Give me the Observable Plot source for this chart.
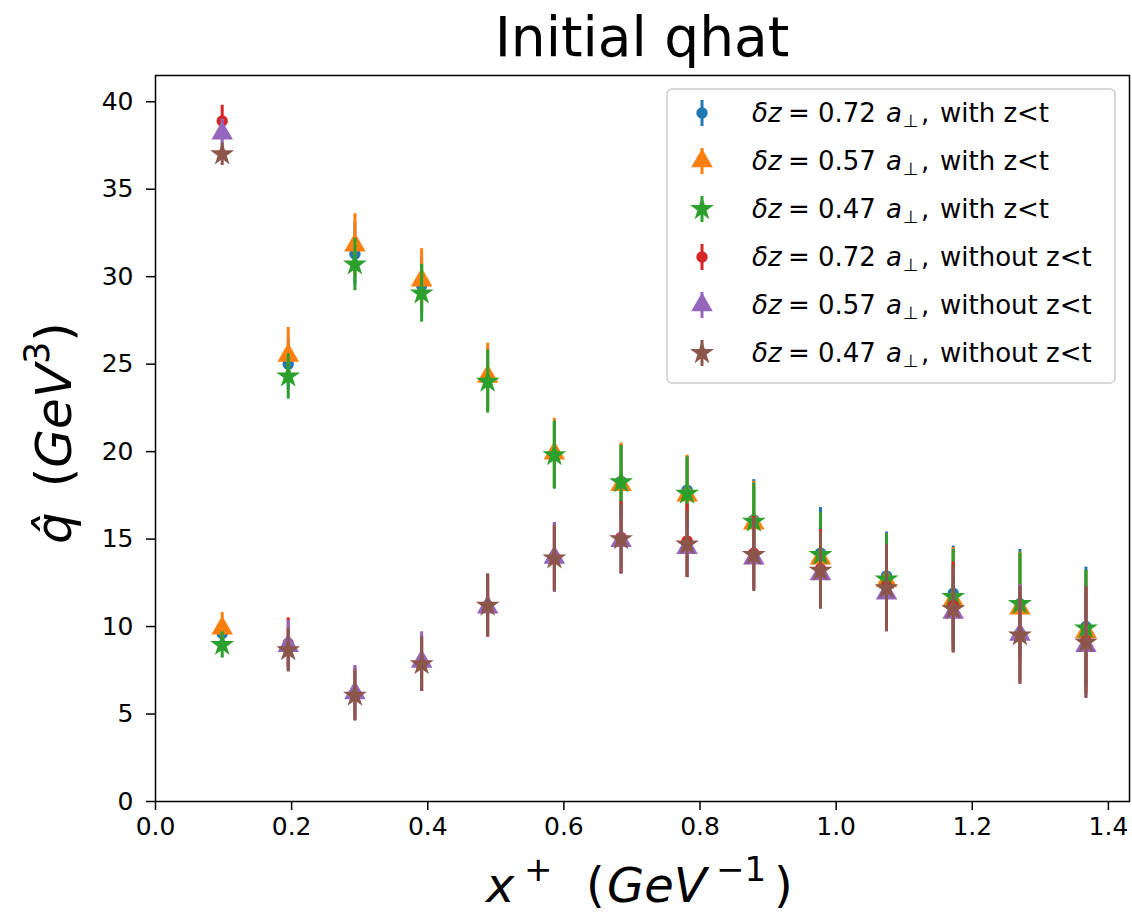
<!DOCTYPE html>
<html><head><meta charset="utf-8">
<script src="https://cdn.jsdelivr.net/npm/d3@7"></script>
<script src="https://cdn.jsdelivr.net/npm/@observablehq/plot@0.6"></script>
<style>body{margin:0;background:#fff} svg{display:block}</style>
</head><body><div id="chart"></div>
<script>
// x positions (GeV^-1)
const xPlus = [0.098, 0.195, 0.293, 0.391, 0.488, 0.586, 0.684, 0.781, 0.879, 0.977, 1.074, 1.172, 1.270, 1.367];

// with z<t
const yWith072   = [9.6, 25.0, 31.3, 29.5, 24.1, 19.8, 18.3, 17.8, 16.1, 14.2, 12.9, 11.9, 11.3, 10.0];
const errWith072 = [0.8, 1.5, 1.8, 1.6, 1.8, 1.9, 2.1, 1.9, 2.3, 2.6, 2.5, 2.7, 3.1, 3.4];
const yWith057   = [9.9, 25.5, 31.8, 29.8, 24.3, 19.9, 18.1, 17.5, 15.9, 13.9, 12.6, 11.5, 11.05, 9.7];
const errWith057 = [0.9, 1.6, 1.8, 1.8, 1.9, 2.0, 2.4, 2.3, 2.4, 2.6, 2.7, 3.0, 3.2, 3.5];
const yWith047   = [8.95, 24.3, 30.7, 29.05, 24.0, 19.8, 18.25, 17.6, 16.0, 14.1, 12.7, 11.7, 11.3, 9.9];
const errWith047 = [0.75, 1.3, 1.5, 1.65, 1.8, 1.95, 2.1, 2.1, 2.2, 2.4, 2.6, 2.7, 2.9, 3.3];
// without z<t
const yWithout072   = [38.9, 9.05, 6.2, 7.9, 11.2, 14.0, 15.1, 14.9, 14.2, 13.3, 12.3, 11.2, 9.6, 9.2];
const errWithout072 = [0.9, 1.45, 1.5, 1.6, 1.8, 1.95, 2.05, 2.1, 2.1, 2.25, 2.4, 2.5, 2.7, 3.0];
const yWithout057   = [38.2, 8.9, 6.2, 8.0, 11.1, 13.95, 14.9, 14.5, 13.9, 13.0, 11.9, 10.8, 9.55, 8.9];
const errWithout057 = [0.8, 1.45, 1.58, 1.7, 1.7, 2.0, 1.9, 1.7, 1.8, 2.0, 2.2, 2.3, 2.85, 3.0];
const yWithout047   = [37.0, 8.65, 6.05, 7.85, 11.2, 13.9, 15.0, 14.7, 14.1, 13.2, 12.2, 11.0, 9.5, 9.1];
const errWithout047 = [0.65, 1.25, 1.45, 1.55, 1.8, 1.9, 2.0, 1.9, 2.1, 2.2, 2.5, 2.5, 2.8, 3.2];

const seriesDz = ["0.72", "0.57", "0.47", "0.72", "0.57", "0.47"];
const seriesCase = ["with z<t", "with z<t", "with z<t", "without z<t", "without z<t", "without z<t"];
const seriesColors = ["#1f77b4", "#ff7f0e", "#2ca02c", "#d62728", "#9467bd", "#8c564b"];
const seriesSymbols = ["circle", "triangle", "star", "circle", "triangle", "star"];
const xTicks = [0.0, 0.2, 0.4, 0.6, 0.8, 1.0, 1.2, 1.4];
const yTicks = [0, 5, 10, 15, 20, 25, 30, 35, 40];
const titleText = "Initial qhat";

const seriesValues = [yWith072, yWith057, yWith047, yWithout072, yWithout057, yWithout047];
const seriesErrors = [errWith072, errWith057, errWith047, errWithout072, errWithout057, errWithout047];
const symbolR = {circle: 4.6, triangle: 6.6, star: 5.4};

const rows = seriesValues.map((vals, s) => vals.map((v, i) => ({
  s, x: xPlus[i], y: v, lo: v - seriesErrors[s][i], hi: v + seriesErrors[s][i]
})));

const W = 1132, H = 917;
const marks = [];
rows.forEach((data, s) => {
  marks.push(Plot.ruleX(data, {x: "x", y1: "lo", y2: "hi", stroke: seriesColors[s], strokeWidth: 3}));
  marks.push(Plot.dot(data, {x: "x", y: "y", symbol: seriesSymbols[s], r: symbolR[seriesSymbols[s]], fill: seriesColors[s], stroke: seriesColors[s], strokeWidth: 2.2, strokeLinejoin: "miter"}));
});

const chart = Plot.plot({
  width: W, height: H,
  marginLeft: 155, marginRight: 3, marginTop: 75, marginBottom: 116,
  style: {fontFamily: "DejaVu Sans", fontSize: "25px", background: "white", color: "black"},
  x: {domain: [0, 1.431]},
  y: {domain: [0, 41.5]},
  marks: [
    Plot.axisX({ticks: xTicks, tickFormat: d3.format(".1f"), tickSize: 9, tickPadding: 7, fontSize: 25, label: null, stroke: "black", strokeWidth: 1.5}),
    Plot.axisY({ticks: yTicks, tickFormat: d => String(d), tickSize: 9, tickPadding: 13, fontSize: 25, label: null, stroke: "black", strokeWidth: 1.5}),
    ...marks,
    Plot.frame({stroke: "black", strokeWidth: 1.5})
  ]
});
document.getElementById("chart").appendChild(chart);

const svg = d3.select(chart);
// Title
svg.append("text").attr("x", 642).attr("y", 56).attr("text-anchor", "middle")
  .attr("font-family", "DejaVu Sans").attr("font-size", 55).attr("fill", "black").text(titleText);

// X label: x^+ (GeV^-1)
const xl = svg.append("text").attr("y", 902).attr("text-anchor", "start")
  .attr("font-family", "DejaVu Sans").attr("font-size", 48).attr("fill", "black");
xl.append("tspan").attr("x", 486).attr("font-style", "italic").text("x");
xl.append("tspan").attr("x", 524).attr("font-size", 34).attr("dy", -21).text("+");
xl.append("tspan").attr("x", 586).attr("dy", 21).text("(");
xl.append("tspan").attr("x", 607).attr("font-style", "italic").text("GeV");
xl.append("tspan").attr("x", 716).attr("font-size", 34).attr("dy", -21).text("\u22121");
xl.append("tspan").attr("x", 774).attr("dy", 21).text(")");

// Y label: q-hat (GeV^3)
const yl = svg.append("text").attr("transform", "translate(71,433) rotate(-90)").attr("text-anchor", "middle")
  .attr("font-family", "DejaVu Sans").attr("font-size", 50).attr("fill", "black");
yl.append("tspan").attr("font-style", "italic").text("q\u0302");
yl.append("tspan").text("\u2002(");
yl.append("tspan").attr("font-style", "italic").text("GeV");
yl.append("tspan").attr("font-size", 35).attr("dy", -22).text("3");
yl.append("tspan").attr("dy", 22).text(")");

// Legend
const lg = svg.append("g");
lg.append("rect").attr("x", 667).attr("y", 89).attr("width", 448).attr("height", 294).attr("rx", 5)
  .attr("fill", "white").attr("fill-opacity", 0.8).attr("stroke", "#cccccc").attr("stroke-width", 1.5);
const d3Sym = {circle: d3.symbolCircle, triangle: d3.symbolTriangle, star: d3.symbolStar};
seriesDz.forEach((dz, s) => {
  const cy = 113 + s * 48;
  const g = lg.append("g").attr("transform", `translate(702,${cy})`);
  g.append("line").attr("x1", 0).attr("x2", 0).attr("y1", -13).attr("y2", 13)
    .attr("stroke", seriesColors[s]).attr("stroke-width", 3);
  const r = symbolR[seriesSymbols[s]];
  g.append("path").attr("d", d3.symbol(d3Sym[seriesSymbols[s]], Math.PI * r * r)())
    .attr("fill", seriesColors[s]).attr("stroke", seriesColors[s]).attr("stroke-width", 2.2);
  const t = lg.append("text").attr("y", cy + 9).attr("text-anchor", "start")
    .attr("font-family", "DejaVu Sans").attr("font-size", 26).attr("fill", "black");
  t.append("tspan").attr("x", 752).attr("font-style", "italic").text("\u03b4z");
  t.append("tspan").attr("x", 788).text("=");
  t.append("tspan").attr("x", 818).text(dz);
  t.append("tspan").attr("x", 886).attr("font-style", "italic").text("a");
  t.append("tspan").attr("x", 903).attr("font-size", 18).attr("dy", 5).text("\u22a5");
  t.append("tspan").attr("x", 921).attr("dy", -5).text(",");
  t.append("tspan").attr("x", 940).text(seriesCase[s]);
});
</script>
</body></html>
